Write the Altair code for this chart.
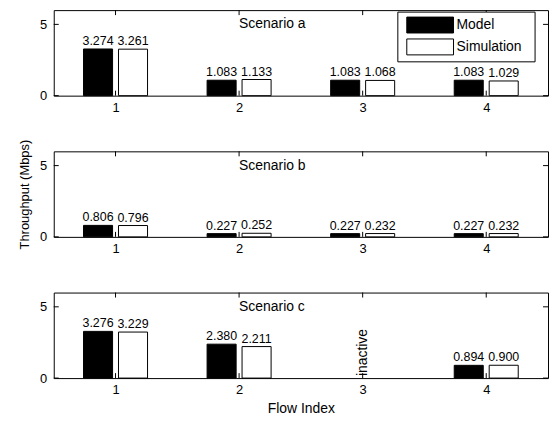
import altair as alt
import pandas as pd

# ---------------- data ----------------
FLOWS = [1, 2, 3, 4]
SERIES = ["Model", "Simulation"]
SCENARIOS = ["a", "b", "c"]
MODEL_A = [3.274, 1.083, 1.083, 1.083]
SIM_A = [3.261, 1.133, 1.068, 1.029]
MODEL_B = [0.806, 0.227, 0.227, 0.227]
SIM_B = [0.796, 0.252, 0.232, 0.232]
MODEL_C = [3.276, 2.380, None, 0.894]
SIM_C = [3.229, 2.211, None, 0.900]
INACTIVE_C = [3]
Y_TICKS = [0, 5]

VALUES = {"a": (MODEL_A, SIM_A), "b": (MODEL_B, SIM_B), "c": (MODEL_C, SIM_C)}

# ---------------- layout constants ----------------
W, H = 497, 86
BAR_W = 0.235
GAP = 0.048
FONT = "Liberation Sans"
COLORS = {"Model": "black", "Simulation": "white"}

rows = []
for sc in SCENARIOS:
    for si, s in enumerate(SERIES):
        vals = VALUES[sc][si]
        for f, v in zip(FLOWS, vals):
            if v is None:
                continue
            off = -(GAP / 2 + BAR_W / 2) if si == 0 else (GAP / 2 + BAR_W / 2)
            rows.append({
                "scenario": sc, "flow": f, "series": s, "value": v,
                "label": f"{v:.3f}",
                "x0": f + off - BAR_W / 2, "x1": f + off + BAR_W / 2,
                "xc": f + off,
            })
df = pd.DataFrame(rows)

xs = alt.Scale(domain=[0.5, 4.5], nice=False, zero=False)
ys = alt.Scale(domain=[0, 6], nice=False, zero=False)


def panel(sc):
    d = df[df.scenario == sc]
    is_b = sc == "b"
    is_c = sc == "c"
    xaxis = alt.Axis(values=FLOWS, format="d", ticks=False, domain=False, grid=False,
                     labelPadding=6, labelFontSize=13,
                     title="Flow Index" if is_c else "", titlePadding=5,
                     titleFontSize=14)
    yaxis = alt.Axis(values=Y_TICKS, format="d", ticks=False, domain=False, grid=False,
                     labelPadding=7, labelFontSize=13,
                     title="Throughput (Mbps)" if is_b else "", titlePadding=8,
                     titleFontSize=13)

    def X(f):
        return alt.X(f, scale=xs, axis=xaxis)

    def Y(f):
        return alt.Y(f, scale=ys, axis=yaxis)

    bars = alt.Chart(d).mark_rect(stroke="black", strokeWidth=1).encode(
        x=X("x0:Q"),
        x2="x1:Q",
        y=Y("value:Q"),
        y2=alt.datum(0),
        fill=alt.Fill("series:N", scale=alt.Scale(domain=SERIES, range=[COLORS[s] for s in SERIES]), legend=None),
    )
    labels = alt.Chart(d).mark_text(baseline="bottom", dy=-1, fontSize=12.5, font=FONT, color="black").encode(
        x=X("xc:Q"),
        y=Y("value:Q"),
        text="label:N",
    )
    xt = pd.DataFrame({"flow": FLOWS})
    yt = pd.DataFrame({"v": Y_TICKS})
    tick_b = alt.Chart(xt).mark_rule(color="black").encode(
        x=X("flow:Q"), y=alt.value(H), y2=alt.value(H - 5))
    tick_t = alt.Chart(xt).mark_rule(color="black").encode(
        x=X("flow:Q"), y=alt.value(0), y2=alt.value(5))
    tick_l = alt.Chart(yt).mark_rule(color="black").encode(
        y=Y("v:Q"), x=alt.value(0), x2=alt.value(5))
    tick_r = alt.Chart(yt).mark_rule(color="black").encode(
        y=Y("v:Q"), x=alt.value(W - 5), x2=alt.value(W))
    title_df = pd.DataFrame({"x": [2], "y": [5], "t": [f"Scenario {sc}"]})
    stitle = alt.Chart(title_df).mark_text(align="left", baseline="middle", fontSize=14,
                                           font=FONT, color="black").encode(
        x=X("x:Q"), y=Y("y:Q"), text="t:N")
    layers = [bars, tick_b, tick_t, tick_l, tick_r, labels, stitle]

    if is_c:
        ina = pd.DataFrame({"flow": INACTIVE_C, "y": [0] * len(INACTIVE_C), "t": ["inactive"] * len(INACTIVE_C)})
        layers.append(alt.Chart(ina).mark_text(angle=270, align="left", baseline="middle", dx=2,
                                               fontSize=14, font=FONT, color="black").encode(
            x=X("flow:Q"), y=Y("y:Q"), text="t:N"))

    if sc == "a":
        lx0, lx1, ly0, ly1 = 346, 484, 2, 52
        box = alt.Chart(pd.DataFrame({"k": [0]})).mark_rect(fill="white", stroke="black", strokeWidth=1).encode(
            x=alt.value(lx0), x2=alt.value(lx1), y=alt.value(ly0), y2=alt.value(ly1))
        layers.append(box)
        for i, s in enumerate(SERIES):
            yc = 15 + 22 * i
            sw = alt.Chart(pd.DataFrame({"series": [s]})).mark_rect(fill=COLORS[s], stroke="black", strokeWidth=1).encode(
                x=alt.value(355), x2=alt.value(402), y=alt.value(yc - 8), y2=alt.value(yc + 8))
            tx = alt.Chart(pd.DataFrame({"series": [s]})).mark_text(align="left", baseline="middle", fontSize=14,
                                                                   font=FONT, color="black").encode(
                x=alt.value(405), y=alt.value(yc), text="series:N")
            layers += [sw, tx]

    return alt.layer(*layers).properties(width=W, height=H)


chart = alt.vconcat(*[panel(s) for s in SCENARIOS], spacing=56, bounds="flush").properties(
    padding={"left": 10, "top": 0, "right": 0, "bottom": 0}
).configure_view(stroke="black", strokeWidth=1).configure_axis(
    labelFont=FONT, titleFont=FONT, labelColor="black", titleColor="black", titleFontWeight="normal"
)

chart.save("out.html", embed_options={"renderer": "svg", "actions": False})
